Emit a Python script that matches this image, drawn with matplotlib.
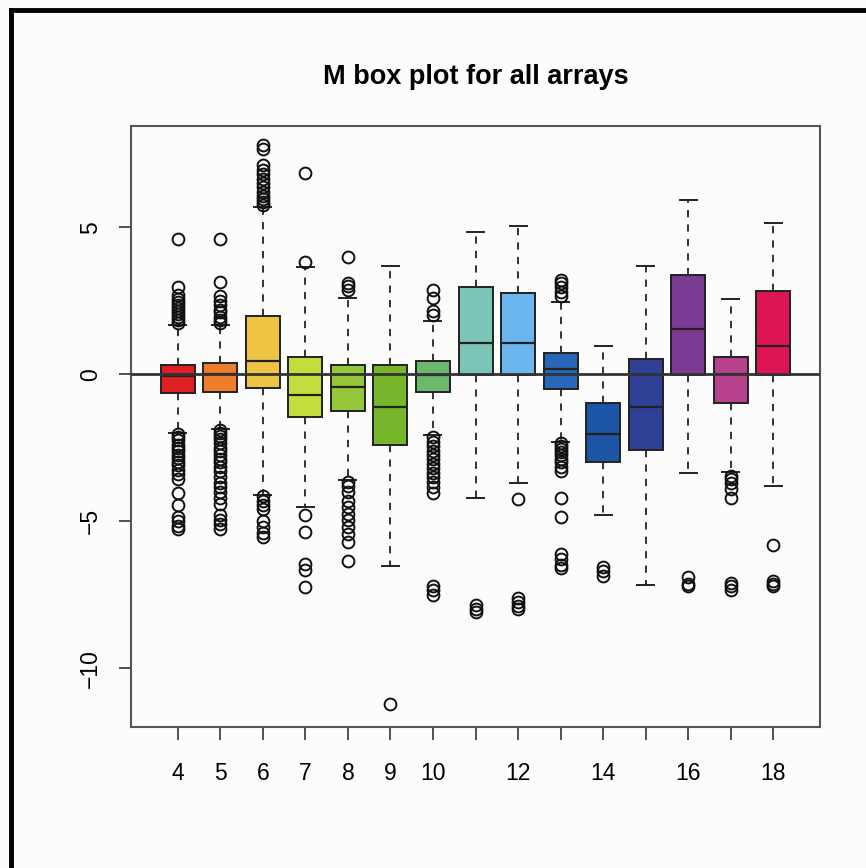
import matplotlib
matplotlib.use("Agg")
import matplotlib.pyplot as plt
from matplotlib.lines import Line2D

plt.rcParams['font.family'] = ['Liberation Sans', 'DejaVu Sans']

# array ids and box statistics
arrays = [4, 5, 6, 7, 8, 9, 10, 11, 12, 13, 14, 15, 16, 17, 18]
q1 = [-0.65, -0.61, -0.48, -1.46, -1.26, -2.41, -0.61, -0.03, -0.03, -0.52, -2.98, -2.58, -0.03, -0.99, -0.03]
med = [-0.07, 0.0, 0.45, -0.71, -0.44, -1.12, -0.03, 1.05, 1.05, 0.19, -2.02, -1.11, 1.53, 0.0, 0.96]
q3 = [0.31, 0.37, 1.97, 0.58, 0.31, 0.31, 0.44, 2.96, 2.76, 0.71, -0.99, 0.5, 3.36, 0.58, 2.82]
whislo = [-2.0, -1.85, -4.12, -4.52, -3.6, -6.53, -2.07, -4.22, -3.71, -2.3, -4.8, -7.18, -3.37, -3.32, -3.8]
whishi = [1.67, 1.67, 5.68, 3.64, 2.58, 3.67, 1.8, 4.83, 5.03, 2.45, 0.96, 3.67, 5.92, 2.55, 5.13]

# outliers per array
fliers = [
    [1.75, 1.85, 1.95, 2.05, 2.15, 2.25, 2.35, 2.45, 2.55, 2.7, 2.95, 4.6,
     -2.05, -2.15, -2.25, -2.4, -2.5, -2.6, -2.75, -2.85, -3.0, -3.1, -3.25, -3.4, -3.55,
     -4.05, -4.45, -4.85, -5.0, -5.15, -5.25],
    [1.75, 1.85, 1.95, 2.1, 2.2, 2.35, 2.5, 2.65, 3.15, 4.6,
     -1.9, -2.0, -2.1, -2.2, -2.35, -2.5, -2.6, -2.75, -2.9, -3.0, -3.15, -3.3, -3.5,
     -3.7, -3.85, -4.0, -4.2, -4.4, -4.8, -4.95, -5.1, -5.25],
    [5.75, 5.85, 5.95, 6.05, 6.2, 6.35, 6.5, 6.65, 6.8, 6.95, 7.1, 7.65, 7.8,
     -4.15, -4.3, -4.45, -4.6, -5.0, -5.2, -5.4, -5.55],
    [3.8, 6.85, -4.8, -5.35, -6.45, -6.65, -7.25],
    [2.85, 3.0, 3.1, 4.0, -3.65, -3.8, -4.0, -4.3, -4.5, -4.75, -4.95, -5.2, -5.45, -5.7, -6.35],
    [-11.2],
    [2.0, 2.15, 2.6, 2.85, -2.15, -2.3, -2.45, -2.6, -2.75, -2.9, -3.05, -3.2, -3.35,
     -3.5, -3.65, -3.85, -4.05, -7.2, -7.35, -7.5],
    [-7.85, -8.0, -8.1],
    [-4.25, -7.6, -7.75, -7.9, -8.0],
    [2.65, 2.8, 2.95, 3.1, 3.2, -2.35, -2.45, -2.55, -2.65, -2.75, -2.9, -3.0, -3.15, -3.3,
     -4.2, -4.85, -6.1, -6.3, -6.5, -6.6],
    [-6.55, -6.7, -6.85],
    [],
    [-6.9, -7.15, -7.2],
    [-3.45, -3.55, -3.7, -3.9, -4.2, -7.1, -7.2, -7.35],
    [-5.8, -7.05, -7.15, -7.2],
]

colors = ["#DE1F26", "#EE7D2C", "#EEC444", "#C4DD3C", "#96C73A", "#77B62A", "#6CB86C",
          "#7CC5B6", "#6BB6EE", "#2767B9", "#1C55A6", "#2F4096", "#7B3B92", "#B8418E", "#DC1553"]

shown = ["4", "5", "6", "7", "8", "9", "10", "", "12", "", "14", "", "16", "", "18"]

stats = []
for i in range(len(arrays)):
    stats.append(dict(med=med[i], q1=q1[i], q3=q3[i], whislo=whislo[i],
                      whishi=whishi[i], fliers=fliers[i]))

fig = plt.figure(figsize=(8.66, 8.68), dpi=100, facecolor="#fcfcfc")
ax = fig.add_axes([0.1513, 0.1624, 0.7956, 0.6924], facecolor="#fcfcfc")

bp = ax.bxp(stats, positions=arrays, widths=0.8, patch_artist=True,
            boxprops=dict(edgecolor="#222222", linewidth=1.4),
            medianprops=dict(color="#222222", linewidth=1.6),
            whiskerprops=dict(color="#222222", linewidth=1.3, linestyle=(0, (4, 4))),
            capprops=dict(color="#222222", linewidth=1.4),
            flierprops=dict(marker="o", markerfacecolor="none", markeredgecolor="#111111",
                            markersize=8.5, markeredgewidth=1.4))
for patch, c in zip(bp["boxes"], colors):
    patch.set_facecolor(c)

ax.axhline(0, color="#333333", linewidth=2, zorder=5)

ax.set_xlim(2.9, 19.1)
ax.set_ylim(-12.0, 8.44)
ax.set_xticks(arrays)
ax.set_xticklabels(shown, fontsize=16.5)
ax.set_yticks([-10, -5, 0, 5])
ax.set_yticklabels(["\u221210", "\u22125", "0", "5"], fontsize=16.5, rotation=90, va="center")
ax.tick_params(axis="x", length=9, width=1.3, color="#444444", pad=16)
ax.tick_params(axis="y", length=9, width=1.3, color="#444444", pad=12)
for s in ax.spines.values():
    s.set_color("#555555")
    s.set_linewidth(1.5)

ax.set_title("M box plot for all arrays", fontsize=19.5, fontweight="bold", pad=30)

# outer frame (cropped on right and bottom)
fig.add_artist(Line2D([0.0127, 0.0127], [0, 0.988], transform=fig.transFigure, color="black", lw=3.5))
fig.add_artist(Line2D([0.0127, 1.0], [0.988, 0.988], transform=fig.transFigure, color="black", lw=3.5))

fig.savefig("out.png", dpi=100, facecolor=fig.get_facecolor())
